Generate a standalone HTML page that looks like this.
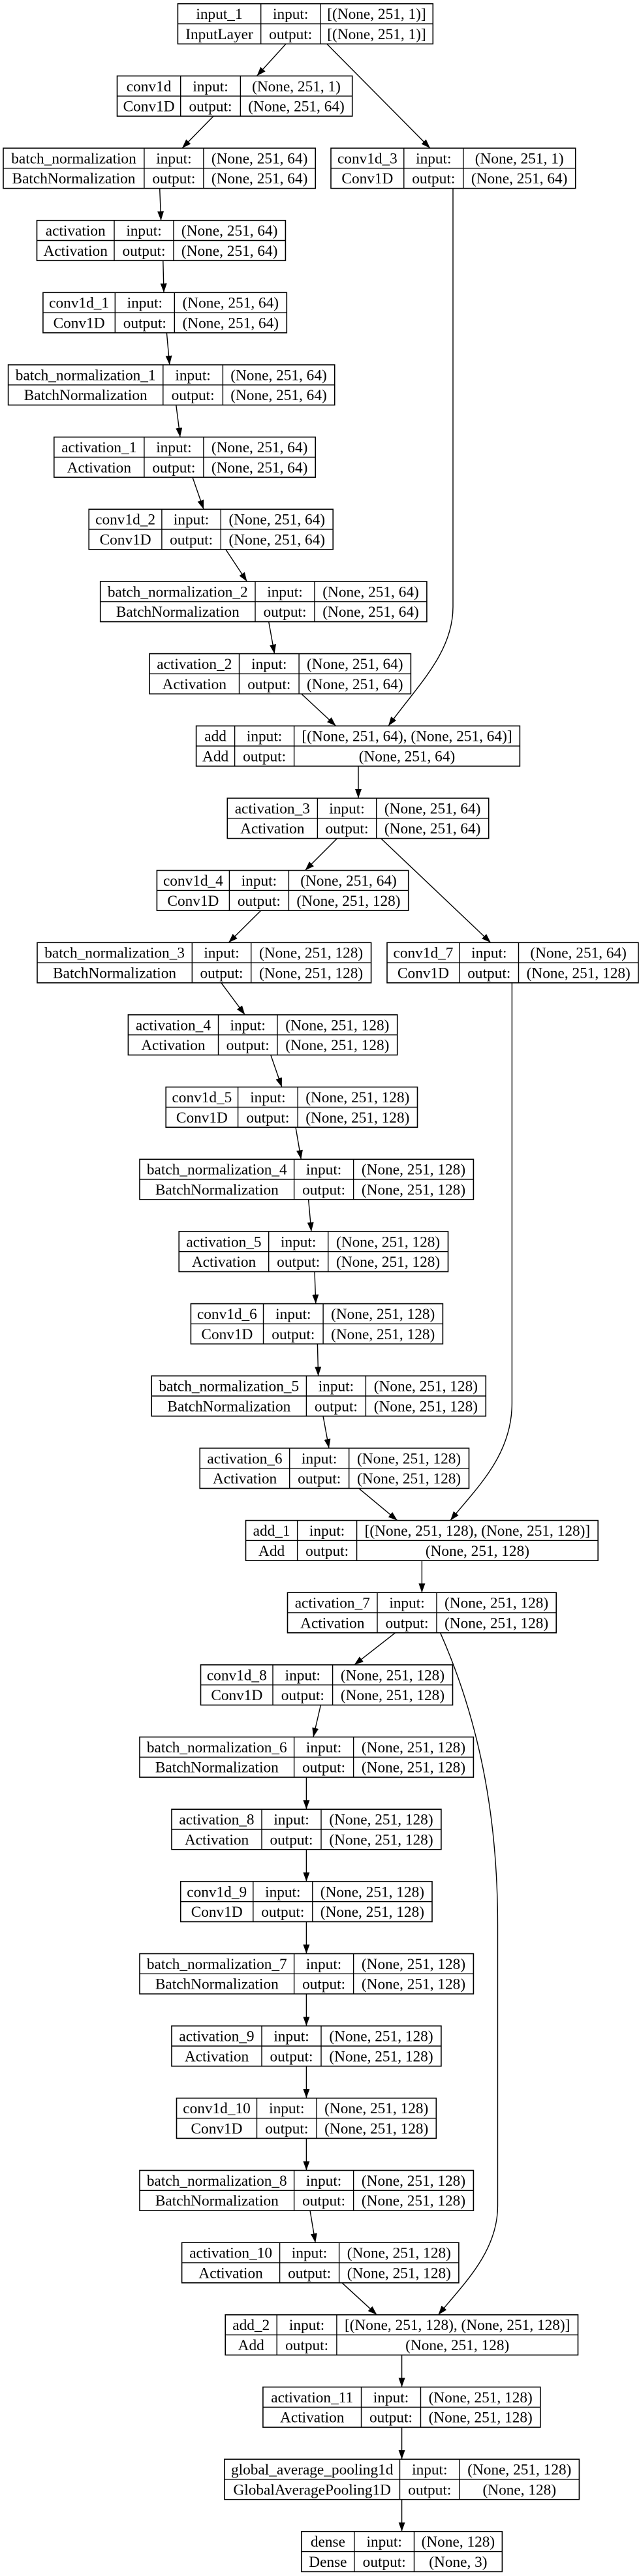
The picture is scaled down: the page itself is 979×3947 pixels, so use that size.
<!DOCTYPE html>
<html><head><meta charset="utf-8">
<style>
html,body{margin:0;padding:0;background:#fff;}
svg{display:block;}
text{font-family:"Liberation Serif","DejaVu Serif",serif;font-size:23.3px;text-anchor:middle;fill:#000;}
rect{fill:#fff;stroke:#000;stroke-width:1.6;}
.n line{stroke:#000;stroke-width:1.4;}
.e{fill:none;stroke:#000;stroke-width:1.4;marker-end:url(#ah);}
</style></head>
<body>
<svg width="979" height="3947" viewBox="0 0 979 3947" xmlns="http://www.w3.org/2000/svg">
<defs><marker id="ah" markerUnits="userSpaceOnUse" markerWidth="15" markerHeight="11" refX="14" refY="5" orient="auto"><path d="M0,0 L14,5 L0,10 z" fill="#000"/></marker></defs>

<!-- edges -->
<path class="e" d="M438,67.3 L393.5,116.4"/>
<path class="e" d="M500.8,67.3 L659,227"/>
<path class="e" d="M327,178 L279,227"/>
<path class="e" d="M244.7,288.6 L246.6,337.7"/>
<path class="e" d="M249.8,399.3 L251,448.3"/>
<path class="e" d="M255.4,509.9 L259.8,559"/>
<path class="e" d="M269.8,620.6 L276,669.7"/>
<path class="e" d="M295,731.3 L312,780.3"/>
<path class="e" d="M345.8,841.9 L378.4,891"/>
<path class="e" d="M411.7,952.6 L420.5,1001.6"/>
<path class="e" d="M461.9,1063.2 L514.6,1112.3"/>
<path class="e" d="M694,288.6 L694,930 C694,1000 640,1050 595,1112.3"/>
<path class="e" d="M549,1173.9 L549,1223"/>
<path class="e" d="M516.5,1284.6 L467.5,1333.6"/>
<path class="e" d="M583.6,1284.6 L751.8,1444.3"/>
<path class="e" d="M399.7,1395.2 L350.2,1444.3"/>
<path class="e" d="M338.9,1505.9 L375.3,1554.9"/>
<path class="e" d="M414.8,1616.5 L431.8,1665.6"/>
<path class="e" d="M453,1727.2 L461.3,1776.3"/>
<path class="e" d="M472.6,1837.9 L477,1886.9"/>
<path class="e" d="M482,1948.5 L483.8,1997.6"/>
<path class="e" d="M486.4,2059.2 L487.6,2108.2"/>
<path class="e" d="M495,2169.8 L504,2218.9"/>
<path class="e" d="M549.7,2280.5 L608.7,2329.6"/>
<path class="e" d="M784.4,1505.9 L784.4,2150 C784.4,2230 730,2280 690,2329.6"/>
<path class="e" d="M646.4,2391.2 L646.4,2440.2"/>
<path class="e" d="M605.6,2501.8 L542.8,2550.9"/>
<path class="e" d="M674.6,2501.8 C740,2650 762.5,2800 762.5,2950 L762.5,3380 C762.5,3450 710,3500 671.5,3546.8"/>
<path class="e" d="M491.4,2612.5 L480,2661.5"/>
<path class="e" d="M469.4,2723.1 L469.4,2772.2"/>
<path class="e" d="M469.4,2833.8 L469.4,2882.9"/>
<path class="e" d="M469.4,2944.5 L469.4,2993.5"/>
<path class="e" d="M469.4,3055.1 L469.4,3104.2"/>
<path class="e" d="M469.4,3165.8 L469.4,3214.8"/>
<path class="e" d="M469.4,3276.4 L469.4,3325.5"/>
<path class="e" d="M475,3387.1 L483.2,3436.2"/>
<path class="e" d="M524,3497.8 L577.4,3546.8"/>
<path class="e" d="M615.6,3608.4 L615.6,3657.5"/>
<path class="e" d="M615.6,3719.1 L615.6,3768.1"/>
<path class="e" d="M615.6,3829.7 L615.6,3878.8"/>

<!-- nodes -->
<g class="n" transform="translate(272.4,5.7)"><rect width="390.9" height="61.6"/><line x1="0" y1="30.8" x2="390.9" y2="30.8"/><line x1="127.3" y1="0" x2="127.3" y2="61.6"/><line x1="218.3" y1="0" x2="218.3" y2="61.6"/>
<text x="63.6" y="23.4">input_1</text><text x="63.6" y="54.2">InputLayer</text><text x="172.8" y="23.4">input:</text><text x="172.8" y="54.2">output:</text><text x="304.6" y="23.4">[(None, 251, 1)]</text><text x="304.6" y="54.2">[(None, 251, 1)]</text></g>

<g class="n" transform="translate(179.5,116.4)"><rect width="360.2" height="61.6"/><line x1="0" y1="30.8" x2="360.2" y2="30.8"/><line x1="97.2" y1="0" x2="97.2" y2="61.6"/><line x1="188.9" y1="0" x2="188.9" y2="61.6"/>
<text x="48.6" y="23.4">conv1d</text><text x="48.6" y="54.2">Conv1D</text><text x="143" y="23.4">input:</text><text x="143" y="54.2">output:</text><text x="274.5" y="23.4">(None, 251, 1)</text><text x="274.5" y="54.2">(None, 251, 64)</text></g>

<g class="n" transform="translate(5,227)"><rect width="478.2" height="61.6"/><line x1="0" y1="30.8" x2="478.2" y2="30.8"/><line x1="215.9" y1="0" x2="215.9" y2="61.6"/><line x1="306.9" y1="0" x2="306.9" y2="61.6"/>
<text x="108" y="23.4">batch_normalization</text><text x="108" y="54.2">BatchNormalization</text><text x="261.4" y="23.4">input:</text><text x="261.4" y="54.2">output:</text><text x="392.6" y="23.4">(None, 251, 64)</text><text x="392.6" y="54.2">(None, 251, 64)</text></g>

<g class="n" transform="translate(507,227)"><rect width="374.7" height="61.6"/><line x1="0" y1="30.8" x2="374.7" y2="30.8"/><line x1="111.8" y1="0" x2="111.8" y2="61.6"/><line x1="202.8" y1="0" x2="202.8" y2="61.6"/>
<text x="55.9" y="23.4">conv1d_3</text><text x="55.9" y="54.2">Conv1D</text><text x="157.3" y="23.4">input:</text><text x="157.3" y="54.2">output:</text><text x="288.7" y="23.4">(None, 251, 1)</text><text x="288.7" y="54.2">(None, 251, 64)</text></g>

<g class="n" transform="translate(56.5,337.7)"><rect width="380.9" height="61.6"/><line x1="0" y1="30.8" x2="380.9" y2="30.8"/><line x1="118.5" y1="0" x2="118.5" y2="61.6"/><line x1="209.5" y1="0" x2="209.5" y2="61.6"/>
<text x="59.2" y="23.4">activation</text><text x="59.2" y="54.2">Activation</text><text x="164" y="23.4">input:</text><text x="164" y="54.2">output:</text><text x="295.2" y="23.4">(None, 251, 64)</text><text x="295.2" y="54.2">(None, 251, 64)</text></g>

<g class="n" transform="translate(65.9,448.3)"><rect width="373.4" height="61.6"/><line x1="0" y1="30.8" x2="373.4" y2="30.8"/><line x1="110.4" y1="0" x2="110.4" y2="61.6"/><line x1="201.4" y1="0" x2="201.4" y2="61.6"/>
<text x="55.2" y="23.4">conv1d_1</text><text x="55.2" y="54.2">Conv1D</text><text x="155.9" y="23.4">input:</text><text x="155.9" y="54.2">output:</text><text x="287.4" y="23.4">(None, 251, 64)</text><text x="287.4" y="54.2">(None, 251, 64)</text></g>

<g class="n" transform="translate(12.6,559)"><rect width="500.1" height="61.6"/><line x1="0" y1="30.8" x2="500.1" y2="30.8"/><line x1="237.2" y1="0" x2="237.2" y2="61.6"/><line x1="328.8" y1="0" x2="328.8" y2="61.6"/>
<text x="118.6" y="23.4">batch_normalization_1</text><text x="118.6" y="54.2">BatchNormalization</text><text x="283" y="23.4">input:</text><text x="283" y="54.2">output:</text><text x="414.4" y="23.4">(None, 251, 64)</text><text x="414.4" y="54.2">(None, 251, 64)</text></g>

<g class="n" transform="translate(82.8,669.7)"><rect width="400.4" height="61.6"/><line x1="0" y1="30.8" x2="400.4" y2="30.8"/><line x1="138.1" y1="0" x2="138.1" y2="61.6"/><line x1="229.1" y1="0" x2="229.1" y2="61.6"/>
<text x="69" y="23.4">activation_1</text><text x="69" y="54.2">Activation</text><text x="183.6" y="23.4">input:</text><text x="183.6" y="54.2">output:</text><text x="314.8" y="23.4">(None, 251, 64)</text><text x="314.8" y="54.2">(None, 251, 64)</text></g>

<g class="n" transform="translate(136.2,780.3)"><rect width="374" height="61.6"/><line x1="0" y1="30.8" x2="374" y2="30.8"/><line x1="111.7" y1="0" x2="111.7" y2="61.6"/><line x1="202.1" y1="0" x2="202.1" y2="61.6"/>
<text x="55.9" y="23.4">conv1d_2</text><text x="55.9" y="54.2">Conv1D</text><text x="156.9" y="23.4">input:</text><text x="156.9" y="54.2">output:</text><text x="288.1" y="23.4">(None, 251, 64)</text><text x="288.1" y="54.2">(None, 251, 64)</text></g>

<g class="n" transform="translate(153.7,891)"><rect width="500.2" height="61.6"/><line x1="0" y1="30.8" x2="500.2" y2="30.8"/><line x1="237.3" y1="0" x2="237.3" y2="61.6"/><line x1="328.3" y1="0" x2="328.3" y2="61.6"/>
<text x="118.6" y="23.4">batch_normalization_2</text><text x="118.6" y="54.2">BatchNormalization</text><text x="282.8" y="23.4">input:</text><text x="282.8" y="54.2">output:</text><text x="414.3" y="23.4">(None, 251, 64)</text><text x="414.3" y="54.2">(None, 251, 64)</text></g>

<g class="n" transform="translate(229,1001.6)"><rect width="400.4" height="61.6"/><line x1="0" y1="30.8" x2="400.4" y2="30.8"/><line x1="137.5" y1="0" x2="137.5" y2="61.6"/><line x1="229.1" y1="0" x2="229.1" y2="61.6"/>
<text x="68.8" y="23.4">activation_2</text><text x="68.8" y="54.2">Activation</text><text x="183.3" y="23.4">input:</text><text x="183.3" y="54.2">output:</text><text x="314.8" y="23.4">(None, 251, 64)</text><text x="314.8" y="54.2">(None, 251, 64)</text></g>

<g class="n" transform="translate(300.6,1112.3)"><rect width="495.8" height="61.6"/><line x1="0" y1="30.8" x2="495.8" y2="30.8"/><line x1="59" y1="0" x2="59" y2="61.6"/><line x1="150" y1="0" x2="150" y2="61.6"/>
<text x="29.5" y="23.4">add</text><text x="29.5" y="54.2">Add</text><text x="104.5" y="23.4">input:</text><text x="104.5" y="54.2">output:</text><text x="322.9" y="23.4">[(None, 251, 64), (None, 251, 64)]</text><text x="322.9" y="54.2">(None, 251, 64)</text></g>

<g class="n" transform="translate(348.3,1223)"><rect width="400.4" height="61.6"/><line x1="0" y1="30.8" x2="400.4" y2="30.8"/><line x1="138.1" y1="0" x2="138.1" y2="61.6"/><line x1="228.4" y1="0" x2="228.4" y2="61.6"/>
<text x="69" y="23.4">activation_3</text><text x="69" y="54.2">Activation</text><text x="183.2" y="23.4">input:</text><text x="183.2" y="54.2">output:</text><text x="314.4" y="23.4">(None, 251, 64)</text><text x="314.4" y="54.2">(None, 251, 64)</text></g>

<g class="n" transform="translate(240.4,1333.6)"><rect width="385.3" height="61.6"/><line x1="0" y1="30.8" x2="385.3" y2="30.8"/><line x1="111" y1="0" x2="111" y2="61.6"/><line x1="202" y1="0" x2="202" y2="61.6"/>
<text x="55.5" y="23.4">conv1d_4</text><text x="55.5" y="54.2">Conv1D</text><text x="156.5" y="23.4">input:</text><text x="156.5" y="54.2">output:</text><text x="293.6" y="23.4">(None, 251, 64)</text><text x="293.6" y="54.2">(None, 251, 128)</text></g>

<g class="n" transform="translate(57,1444.3)"><rect width="511.6" height="61.6"/><line x1="0" y1="30.8" x2="511.6" y2="30.8"/><line x1="237.3" y1="0" x2="237.3" y2="61.6"/><line x1="327.7" y1="0" x2="327.7" y2="61.6"/>
<text x="118.6" y="23.4">batch_normalization_3</text><text x="118.6" y="54.2">BatchNormalization</text><text x="282.5" y="23.4">input:</text><text x="282.5" y="54.2">output:</text><text x="419.6" y="23.4">(None, 251, 128)</text><text x="419.6" y="54.2">(None, 251, 128)</text></g>

<g class="n" transform="translate(593,1444.3)"><rect width="385" height="61.6"/><line x1="0" y1="30.8" x2="385" y2="30.8"/><line x1="111.1" y1="0" x2="111.1" y2="61.6"/><line x1="201.5" y1="0" x2="201.5" y2="61.6"/>
<text x="55.5" y="23.4">conv1d_7</text><text x="55.5" y="54.2">Conv1D</text><text x="156.3" y="23.4">input:</text><text x="156.3" y="54.2">output:</text><text x="293.2" y="23.4">(None, 251, 64)</text><text x="293.2" y="54.2">(None, 251, 128)</text></g>

<g class="n" transform="translate(196.4,1554.9)"><rect width="412.3" height="61.6"/><line x1="0" y1="30.8" x2="412.3" y2="30.8"/><line x1="138.1" y1="0" x2="138.1" y2="61.6"/><line x1="228.5" y1="0" x2="228.5" y2="61.6"/>
<text x="69" y="23.4">activation_4</text><text x="69" y="54.2">Activation</text><text x="183.3" y="23.4">input:</text><text x="183.3" y="54.2">output:</text><text x="320.4" y="23.4">(None, 251, 128)</text><text x="320.4" y="54.2">(None, 251, 128)</text></g>

<g class="n" transform="translate(254.2,1665.6)"><rect width="385.3" height="61.6"/><line x1="0" y1="30.8" x2="385.3" y2="30.8"/><line x1="110.4" y1="0" x2="110.4" y2="61.6"/><line x1="202" y1="0" x2="202" y2="61.6"/>
<text x="55.2" y="23.4">conv1d_5</text><text x="55.2" y="54.2">Conv1D</text><text x="156.2" y="23.4">input:</text><text x="156.2" y="54.2">output:</text><text x="293.6" y="23.4">(None, 251, 128)</text><text x="293.6" y="54.2">(None, 251, 128)</text></g>

<g class="n" transform="translate(214,1776.3)"><rect width="511.4" height="61.6"/><line x1="0" y1="30.8" x2="511.4" y2="30.8"/><line x1="236.6" y1="0" x2="236.6" y2="61.6"/><line x1="327.6" y1="0" x2="327.6" y2="61.6"/>
<text x="118.3" y="23.4">batch_normalization_4</text><text x="118.3" y="54.2">BatchNormalization</text><text x="282.1" y="23.4">input:</text><text x="282.1" y="54.2">output:</text><text x="419.5" y="23.4">(None, 251, 128)</text><text x="419.5" y="54.2">(None, 251, 128)</text></g>

<g class="n" transform="translate(274.2,1886.9)"><rect width="412.3" height="61.6"/><line x1="0" y1="30.8" x2="412.3" y2="30.8"/><line x1="137.5" y1="0" x2="137.5" y2="61.6"/><line x1="228.5" y1="0" x2="228.5" y2="61.6"/>
<text x="68.8" y="23.4">activation_5</text><text x="68.8" y="54.2">Activation</text><text x="183" y="23.4">input:</text><text x="183" y="54.2">output:</text><text x="320.4" y="23.4">(None, 251, 128)</text><text x="320.4" y="54.2">(None, 251, 128)</text></g>

<g class="n" transform="translate(292.4,1997.6)"><rect width="386" height="61.6"/><line x1="0" y1="30.8" x2="386" y2="30.8"/><line x1="111.1" y1="0" x2="111.1" y2="61.6"/><line x1="202.7" y1="0" x2="202.7" y2="61.6"/>
<text x="55.5" y="23.4">conv1d_6</text><text x="55.5" y="54.2">Conv1D</text><text x="156.9" y="23.4">input:</text><text x="156.9" y="54.2">output:</text><text x="294.3" y="23.4">(None, 251, 128)</text><text x="294.3" y="54.2">(None, 251, 128)</text></g>

<g class="n" transform="translate(232.2,2108.2)"><rect width="512.1" height="61.6"/><line x1="0" y1="30.8" x2="512.1" y2="30.8"/><line x1="237.2" y1="0" x2="237.2" y2="61.6"/><line x1="328.2" y1="0" x2="328.2" y2="61.6"/>
<text x="118.6" y="23.4">batch_normalization_5</text><text x="118.6" y="54.2">BatchNormalization</text><text x="282.7" y="23.4">input:</text><text x="282.7" y="54.2">output:</text><text x="420.2" y="23.4">(None, 251, 128)</text><text x="420.2" y="54.2">(None, 251, 128)</text></g>

<g class="n" transform="translate(306.2,2218.9)"><rect width="412.3" height="61.6"/><line x1="0" y1="30.8" x2="412.3" y2="30.8"/><line x1="137.5" y1="0" x2="137.5" y2="61.6"/><line x1="228.5" y1="0" x2="228.5" y2="61.6"/>
<text x="68.8" y="23.4">activation_6</text><text x="68.8" y="54.2">Activation</text><text x="183" y="23.4">input:</text><text x="183" y="54.2">output:</text><text x="320.4" y="23.4">(None, 251, 128)</text><text x="320.4" y="54.2">(None, 251, 128)</text></g>

<g class="n" transform="translate(376.5,2329.6)"><rect width="539.7" height="61.6"/><line x1="0" y1="30.8" x2="539.7" y2="30.8"/><line x1="79.1" y1="0" x2="79.1" y2="61.6"/><line x1="170.1" y1="0" x2="170.1" y2="61.6"/>
<text x="39.6" y="23.4">add_1</text><text x="39.6" y="54.2">Add</text><text x="124.6" y="23.4">input:</text><text x="124.6" y="54.2">output:</text><text x="354.9" y="23.4">[(None, 251, 128), (None, 251, 128)]</text><text x="354.9" y="54.2">(None, 251, 128)</text></g>

<g class="n" transform="translate(440.5,2440.2)"><rect width="411.7" height="61.6"/><line x1="0" y1="30.8" x2="411.7" y2="30.8"/><line x1="137.5" y1="0" x2="137.5" y2="61.6"/><line x1="228.5" y1="0" x2="228.5" y2="61.6"/>
<text x="68.8" y="23.4">activation_7</text><text x="68.8" y="54.2">Activation</text><text x="183" y="23.4">input:</text><text x="183" y="54.2">output:</text><text x="320.1" y="23.4">(None, 251, 128)</text><text x="320.1" y="54.2">(None, 251, 128)</text></g>

<g class="n" transform="translate(307.5,2550.9)"><rect width="386" height="61.6"/><line x1="0" y1="30.8" x2="386" y2="30.8"/><line x1="110.5" y1="0" x2="110.5" y2="61.6"/><line x1="202.1" y1="0" x2="202.1" y2="61.6"/>
<text x="55.3" y="23.4">conv1d_8</text><text x="55.3" y="54.2">Conv1D</text><text x="156.3" y="23.4">input:</text><text x="156.3" y="54.2">output:</text><text x="294" y="23.4">(None, 251, 128)</text><text x="294" y="54.2">(None, 251, 128)</text></g>

<g class="n" transform="translate(214,2661.5)"><rect width="511.4" height="61.6"/><line x1="0" y1="30.8" x2="511.4" y2="30.8"/><line x1="236.6" y1="0" x2="236.6" y2="61.6"/><line x1="327.6" y1="0" x2="327.6" y2="61.6"/>
<text x="118.3" y="23.4">batch_normalization_6</text><text x="118.3" y="54.2">BatchNormalization</text><text x="282.1" y="23.4">input:</text><text x="282.1" y="54.2">output:</text><text x="419.5" y="23.4">(None, 251, 128)</text><text x="419.5" y="54.2">(None, 251, 128)</text></g>

<g class="n" transform="translate(263,2772.2)"><rect width="412.9" height="61.6"/><line x1="0" y1="30.8" x2="412.9" y2="30.8"/><line x1="138" y1="0" x2="138" y2="61.6"/><line x1="229" y1="0" x2="229" y2="61.6"/>
<text x="69" y="23.4">activation_8</text><text x="69" y="54.2">Activation</text><text x="183.5" y="23.4">input:</text><text x="183.5" y="54.2">output:</text><text x="321" y="23.4">(None, 251, 128)</text><text x="321" y="54.2">(None, 251, 128)</text></g>

<g class="n" transform="translate(276.7,2882.9)"><rect width="385.3" height="61.6"/><line x1="0" y1="30.8" x2="385.3" y2="30.8"/><line x1="111.1" y1="0" x2="111.1" y2="61.6"/><line x1="202.1" y1="0" x2="202.1" y2="61.6"/>
<text x="55.5" y="23.4">conv1d_9</text><text x="55.5" y="54.2">Conv1D</text><text x="156.6" y="23.4">input:</text><text x="156.6" y="54.2">output:</text><text x="293.7" y="23.4">(None, 251, 128)</text><text x="293.7" y="54.2">(None, 251, 128)</text></g>

<g class="n" transform="translate(214,2993.5)"><rect width="511.4" height="61.6"/><line x1="0" y1="30.8" x2="511.4" y2="30.8"/><line x1="236.6" y1="0" x2="236.6" y2="61.6"/><line x1="327.6" y1="0" x2="327.6" y2="61.6"/>
<text x="118.3" y="23.4">batch_normalization_7</text><text x="118.3" y="54.2">BatchNormalization</text><text x="282.1" y="23.4">input:</text><text x="282.1" y="54.2">output:</text><text x="419.5" y="23.4">(None, 251, 128)</text><text x="419.5" y="54.2">(None, 251, 128)</text></g>

<g class="n" transform="translate(263,3104.2)"><rect width="412.9" height="61.6"/><line x1="0" y1="30.8" x2="412.9" y2="30.8"/><line x1="138" y1="0" x2="138" y2="61.6"/><line x1="229" y1="0" x2="229" y2="61.6"/>
<text x="69" y="23.4">activation_9</text><text x="69" y="54.2">Activation</text><text x="183.5" y="23.4">input:</text><text x="183.5" y="54.2">output:</text><text x="321" y="23.4">(None, 251, 128)</text><text x="321" y="54.2">(None, 251, 128)</text></g>

<g class="n" transform="translate(270.5,3214.8)"><rect width="397.8" height="61.6"/><line x1="0" y1="30.8" x2="397.8" y2="30.8"/><line x1="123" y1="0" x2="123" y2="61.6"/><line x1="214.6" y1="0" x2="214.6" y2="61.6"/>
<text x="61.5" y="23.4">conv1d_10</text><text x="61.5" y="54.2">Conv1D</text><text x="168.8" y="23.4">input:</text><text x="168.8" y="54.2">output:</text><text x="306.2" y="23.4">(None, 251, 128)</text><text x="306.2" y="54.2">(None, 251, 128)</text></g>

<g class="n" transform="translate(214,3325.5)"><rect width="511.4" height="61.6"/><line x1="0" y1="30.8" x2="511.4" y2="30.8"/><line x1="236.6" y1="0" x2="236.6" y2="61.6"/><line x1="327.6" y1="0" x2="327.6" y2="61.6"/>
<text x="118.3" y="23.4">batch_normalization_8</text><text x="118.3" y="54.2">BatchNormalization</text><text x="282.1" y="23.4">input:</text><text x="282.1" y="54.2">output:</text><text x="419.5" y="23.4">(None, 251, 128)</text><text x="419.5" y="54.2">(None, 251, 128)</text></g>

<g class="n" transform="translate(278.6,3436.2)"><rect width="424.3" height="61.6"/><line x1="0" y1="30.8" x2="424.3" y2="30.8"/><line x1="150" y1="0" x2="150" y2="61.6"/><line x1="241" y1="0" x2="241" y2="61.6"/>
<text x="75" y="23.4">activation_10</text><text x="75" y="54.2">Activation</text><text x="195.5" y="23.4">input:</text><text x="195.5" y="54.2">output:</text><text x="332.7" y="23.4">(None, 251, 128)</text><text x="332.7" y="54.2">(None, 251, 128)</text></g>

<g class="n" transform="translate(345.2,3546.8)"><rect width="540.3" height="61.6"/><line x1="0" y1="30.8" x2="540.3" y2="30.8"/><line x1="79" y1="0" x2="79" y2="61.6"/><line x1="170.7" y1="0" x2="170.7" y2="61.6"/>
<text x="39.5" y="23.4">add_2</text><text x="39.5" y="54.2">Add</text><text x="124.9" y="23.4">input:</text><text x="124.9" y="54.2">output:</text><text x="355.5" y="23.4">[(None, 251, 128), (None, 251, 128)]</text><text x="355.5" y="54.2">(None, 251, 128)</text></g>

<g class="n" transform="translate(402.9,3657.5)"><rect width="424.9" height="61.6"/><line x1="0" y1="30.8" x2="424.9" y2="30.8"/><line x1="150.6" y1="0" x2="150.6" y2="61.6"/><line x1="241.6" y1="0" x2="241.6" y2="61.6"/>
<text x="75.3" y="23.4">activation_11</text><text x="75.3" y="54.2">Activation</text><text x="196.1" y="23.4">input:</text><text x="196.1" y="54.2">output:</text><text x="333.3" y="23.4">(None, 251, 128)</text><text x="333.3" y="54.2">(None, 251, 128)</text></g>

<g class="n" transform="translate(343.9,3768.1)"><rect width="543.5" height="61.6"/><line x1="0" y1="30.8" x2="543.5" y2="30.8"/><line x1="268.6" y1="0" x2="268.6" y2="61.6"/><line x1="360.2" y1="0" x2="360.2" y2="61.6"/>
<text x="134.3" y="23.4">global_average_pooling1d</text><text x="134.3" y="54.2">GlobalAveragePooling1D</text><text x="314.4" y="23.4">input:</text><text x="314.4" y="54.2">output:</text><text x="451.9" y="23.4">(None, 251, 128)</text><text x="451.9" y="54.2">(None, 128)</text></g>

<g class="n" transform="translate(461.9,3878.8)"><rect width="307.5" height="61.6"/><line x1="0" y1="30.8" x2="307.5" y2="30.8"/><line x1="80.9" y1="0" x2="80.9" y2="61.6"/><line x1="172.6" y1="0" x2="172.6" y2="61.6"/>
<text x="40.5" y="23.4">dense</text><text x="40.5" y="54.2">Dense</text><text x="126.8" y="23.4">input:</text><text x="126.8" y="54.2">output:</text><text x="240" y="23.4">(None, 128)</text><text x="240" y="54.2">(None, 3)</text></g>
</svg>
</body></html>
